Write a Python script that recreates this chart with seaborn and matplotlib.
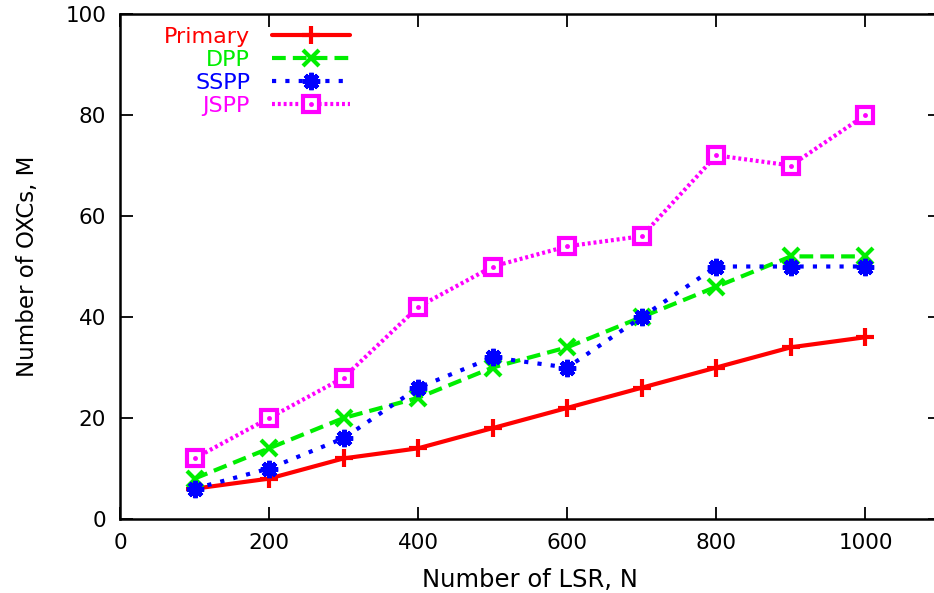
import numpy as np
import pandas as pd
import matplotlib
matplotlib.use("Agg")
import matplotlib.pyplot as plt
import seaborn as sns
from matplotlib.legend_handler import HandlerTuple

# LSR counts on the x axis
lsr = [100, 200, 300, 400, 500, 600, 700, 800, 900, 1000]

# number of OXCs per scheme
primary = [6, 8, 12, 14, 18, 22, 26, 30, 34, 36]
dpp = [8, 14, 20, 24, 30, 34, 40, 46, 52, 52]
sspp = [6, 10, 16, 26, 32, 30, 40, 50, 50, 50]
jspp = [12, 20, 28, 42, 50, 54, 56, 72, 70, 80]

series_names = ["Primary", "DPP", "SSPP", "JSPP"]
x_ticks = [0, 200, 400, 600, 800, 1000]
y_ticks = [0, 20, 40, 60, 80, 100]

sns.set_theme(style="ticks")
plt.rcParams["font.family"] = ["DejaVu Sans"]
plt.rcParams["text.color"] = "black"
plt.rcParams["axes.labelcolor"] = "black"

fig = plt.figure(figsize=(9.34, 5.93), dpi=100)
ax = fig.add_axes([120 / 934, 74 / 593, 820 / 934, 505 / 593])

df = pd.DataFrame({"N": lsr, "Primary": primary, "DPP": dpp,
                   "SSPP": sspp, "JSPP": jspp})

styles = {
    "Primary": dict(color="#ff0000", marker="+", ms=13, mew=3,
                    linestyle="-", lw=3),
    "DPP": dict(color="#00ee00", marker="x", ms=12, mew=3,
                linestyle=(0, (3.3, 1.7)), lw=3),
    "SSPP": dict(color="#0000ff", marker=(8, 2, 0), ms=12.5, mew=3.2,
                 linestyle=(0, (1, 2.2)), lw=3),
    "JSPP": dict(color="#ff00ff", marker="s", ms=12, mew=3, mfc="white",
                 linestyle=(0, (0.7, 0.7)), lw=3),
}

handles = []
for name in series_names:
    st = dict(styles[name])
    st["mec"] = st["color"]
    n_before = len(ax.lines)
    sns.lineplot(data=df, x="N", y=name, ax=ax, label=name, legend=False,
                 **st)
    handles.append(ax.lines[n_before])

# small centre dot inside the JSPP squares
n_before = len(ax.lines)
sns.lineplot(data=df, x="N", y="JSPP", ax=ax, color="#ff00ff", marker="o",
             ms=3.5, mew=0, mec="#ff00ff", linestyle="none", legend=False)
jspp_dot = ax.lines[n_before]
handles[-1] = (handles[-1], jspp_dot)

ax.set_xlim(0, 1100)
ax.set_ylim(0, 100)
ax.set_xticks(x_ticks)
ax.set_yticks(y_ticks)
ax.tick_params(direction="in", length=9, width=1.3, top=True, right=True,
               labelsize=15.5, colors="black", pad=10)
for sp in ax.spines.values():
    sp.set_visible(True)
    sp.set_linewidth(1.8)
    sp.set_color("black")

ax.set_xlabel("Number of LSR, N", fontsize=17.5, labelpad=11)
ax.set_ylabel("Number of OXCs, M", fontsize=16.5, labelpad=19)

leg = ax.legend(handles, series_names, loc="upper left",
                bbox_to_anchor=(0.04, 0.997), frameon=False,
                markerfirst=False, handlelength=3.5, handletextpad=1.0,
                labelspacing=0.14, fontsize=16, borderpad=0,
                handler_map={tuple: HandlerTuple(ndivide=1, pad=0)})
for txt, name in zip(leg.get_texts(), series_names):
    txt.set_color(styles[name]["color"])

fig.savefig("out.png", dpi=100)
